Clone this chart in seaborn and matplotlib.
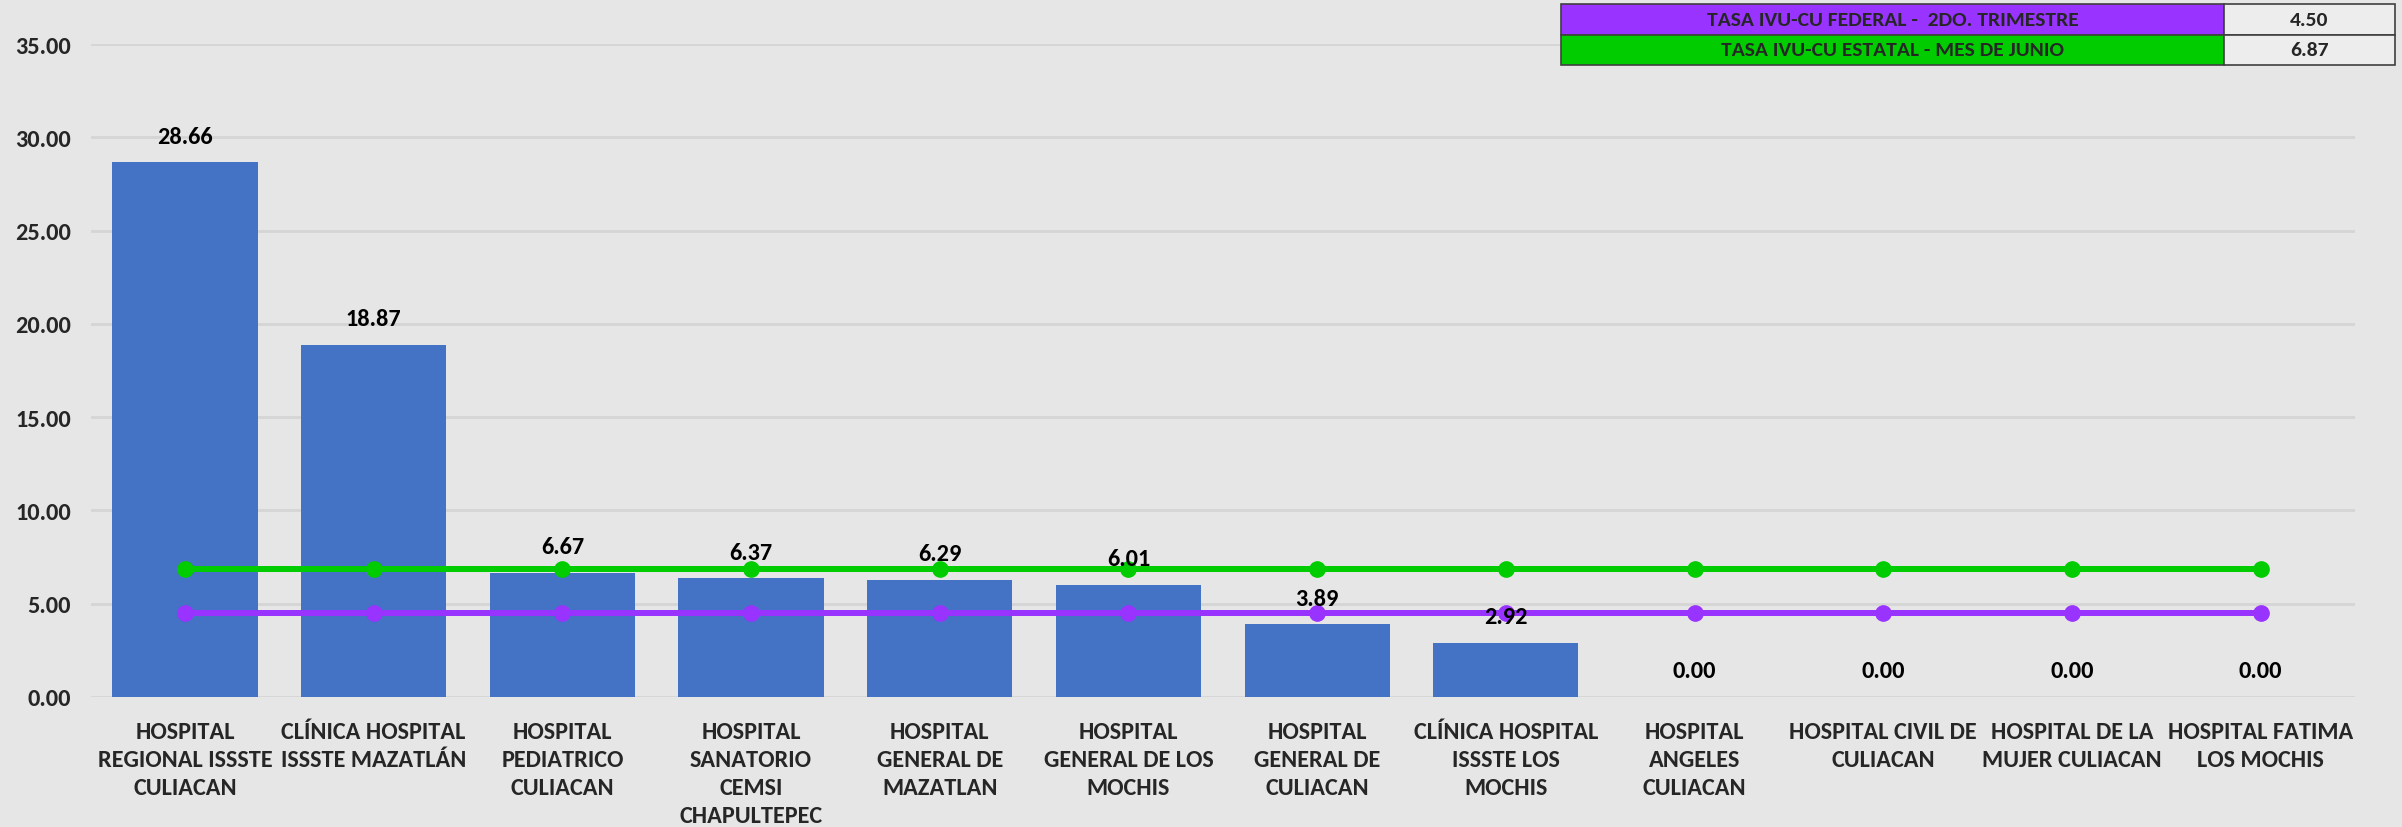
import matplotlib
matplotlib.use("Agg")
import matplotlib.pyplot as plt
from matplotlib import font_manager
import seaborn as sns
import pandas as pd
import numpy as np

categories = [
    "HOSPITAL\nREGIONAL ISSSTE\nCULIACAN",
    "CLÍNICA HOSPITAL\nISSSTE MAZATLÁN",
    "HOSPITAL\nPEDIATRICO\nCULIACAN",
    "HOSPITAL\nSANATORIO\nCEMSI\nCHAPULTEPEC",
    "HOSPITAL\nGENERAL DE\nMAZATLAN",
    "HOSPITAL\nGENERAL DE LOS\nMOCHIS",
    "HOSPITAL\nGENERAL DE\nCULIACAN",
    "CLÍNICA HOSPITAL\nISSSTE LOS\nMOCHIS",
    "HOSPITAL\nANGELES\nCULIACAN",
    "HOSPITAL CIVIL DE\nCULIACAN",
    "HOSPITAL DE LA\nMUJER CULIACAN",
    "HOSPITAL FATIMA\nLOS MOCHIS",
]
values = [28.66, 18.87, 6.67, 6.37, 6.29, 6.01, 3.89, 2.92, 0.00, 0.00, 0.00, 0.00]
federal_label = "TASA IVU-CU FEDERAL -  2DO. TRIMESTRE"
federal_rate = 4.50
state_label = "TASA IVU-CU ESTATAL - MES DE JUNIO"
state_rate = 6.87
y_ticks = [0, 5, 10, 15, 20, 25, 30, 35]

BG = "#E7E6E6"
BAR = "#4472C4"
GREEN = "#00CC00"
PURPLE = "#9933FF"
GRID = "#D6D5D5"

sns.set_theme(style="white")
available = {f.name for f in font_manager.fontManager.ttflist}
candidates = ["Carlito", "Liberation Sans Narrow", "Roboto Condensed",
              "DejaVu Sans Condensed", "Liberation Sans"]
font = next((c for c in candidates if c in available), "DejaVu Sans")
scale = {"Carlito": 1.0, "Liberation Sans Narrow": 1.0, "Roboto Condensed": 0.95,
         "DejaVu Sans Condensed": 0.9, "Liberation Sans": 0.84}.get(font, 0.8)
plt.rcParams["font.family"] = [font, "DejaVu Sans"]
plt.rcParams["font.weight"] = "bold"

XL = 17.5 * scale
YL = 17.5 * scale
DL = 17.5 * scale

fig = plt.figure(figsize=(24.02, 8.28), dpi=100, facecolor=BG)
ax = fig.add_axes([90.6 / 2402, 1 - 698 / 828, (2355 - 90.6) / 2402, (698 - 45) / 828])
ax.set_facecolor(BG)

df = pd.DataFrame({"cat": categories, "val": values})
sns.barplot(data=df, x="cat", y="val", color=BAR, width=0.77, saturation=1,
            linewidth=0, ax=ax, zorder=2)

n = len(categories)
xs = np.arange(n)
ax.plot(xs, [state_rate] * n, color=GREEN, lw=4.3, marker="o", ms=11, zorder=4)
ax.plot(xs, [federal_rate] * n, color=PURPLE, lw=4.3, marker="o", ms=11, zorder=4)

for i, v in enumerate(values):
    ax.annotate(f"{v:.2f}", (i, v), xytext=(0, 26), textcoords="offset pixels",
                ha="center", va="center", fontsize=DL, fontweight="bold", color="black", zorder=5)

ax.set_ylim(0, 35)
ax.set_xlim(-0.5, n - 0.5)
ax.set_yticks(y_ticks)
ax.set_yticklabels([f"{t:.2f}" for t in y_ticks])
ax.yaxis.grid(True, color=GRID, lw=2, zorder=0)
ax.set_axisbelow(True)
for s in ax.spines.values():
    s.set_visible(False)
ax.tick_params(axis="y", length=0, labelsize=YL, pad=14)
ax.tick_params(axis="x", length=0, labelsize=XL, pad=17)
for lab in ax.get_xticklabels():
    lab.set_fontweight("bold")
    lab.set_linespacing(1.42)
    lab.set_verticalalignment("top")
for lab in ax.get_yticklabels():
    lab.set_fontweight("bold")
ax.set_xlabel("")
ax.set_ylabel("")

# Legend table in the top-right corner
tax = fig.add_axes([1561 / 2402, 1 - 66 / 828, (2395 - 1561) / 2402, 61 / 828])
tax.axis("off")
tbl = tax.table(cellText=[[federal_label, f"{federal_rate:.2f}"], [state_label, f"{state_rate:.2f}"]],
                cellColours=[[PURPLE, "#EDEDED"], [GREEN, "#EDEDED"]],
                colWidths=[663 / 834, 171 / 834], bbox=[0, 0, 1, 1], cellLoc="center")
tbl.auto_set_font_size(False)
for (r, c), cell in tbl.get_celld().items():
    cell.set_fontsize(14)
    cell.get_text().set_fontweight("bold")
    cell.set_edgecolor("#404040")
    cell.set_linewidth(1.2)

# fit the table text so the first label spans about 372 px, as in the reference
fig.canvas.draw()
renderer = fig.canvas.get_renderer()
w = tbl[0, 0].get_text().get_window_extent(renderer).width
TL = 14 * 372.0 / max(w, 1)
for (r, c), cell in tbl.get_celld().items():
    cell.set_fontsize(TL)

fig.savefig("out.png", dpi=100, facecolor=BG)
